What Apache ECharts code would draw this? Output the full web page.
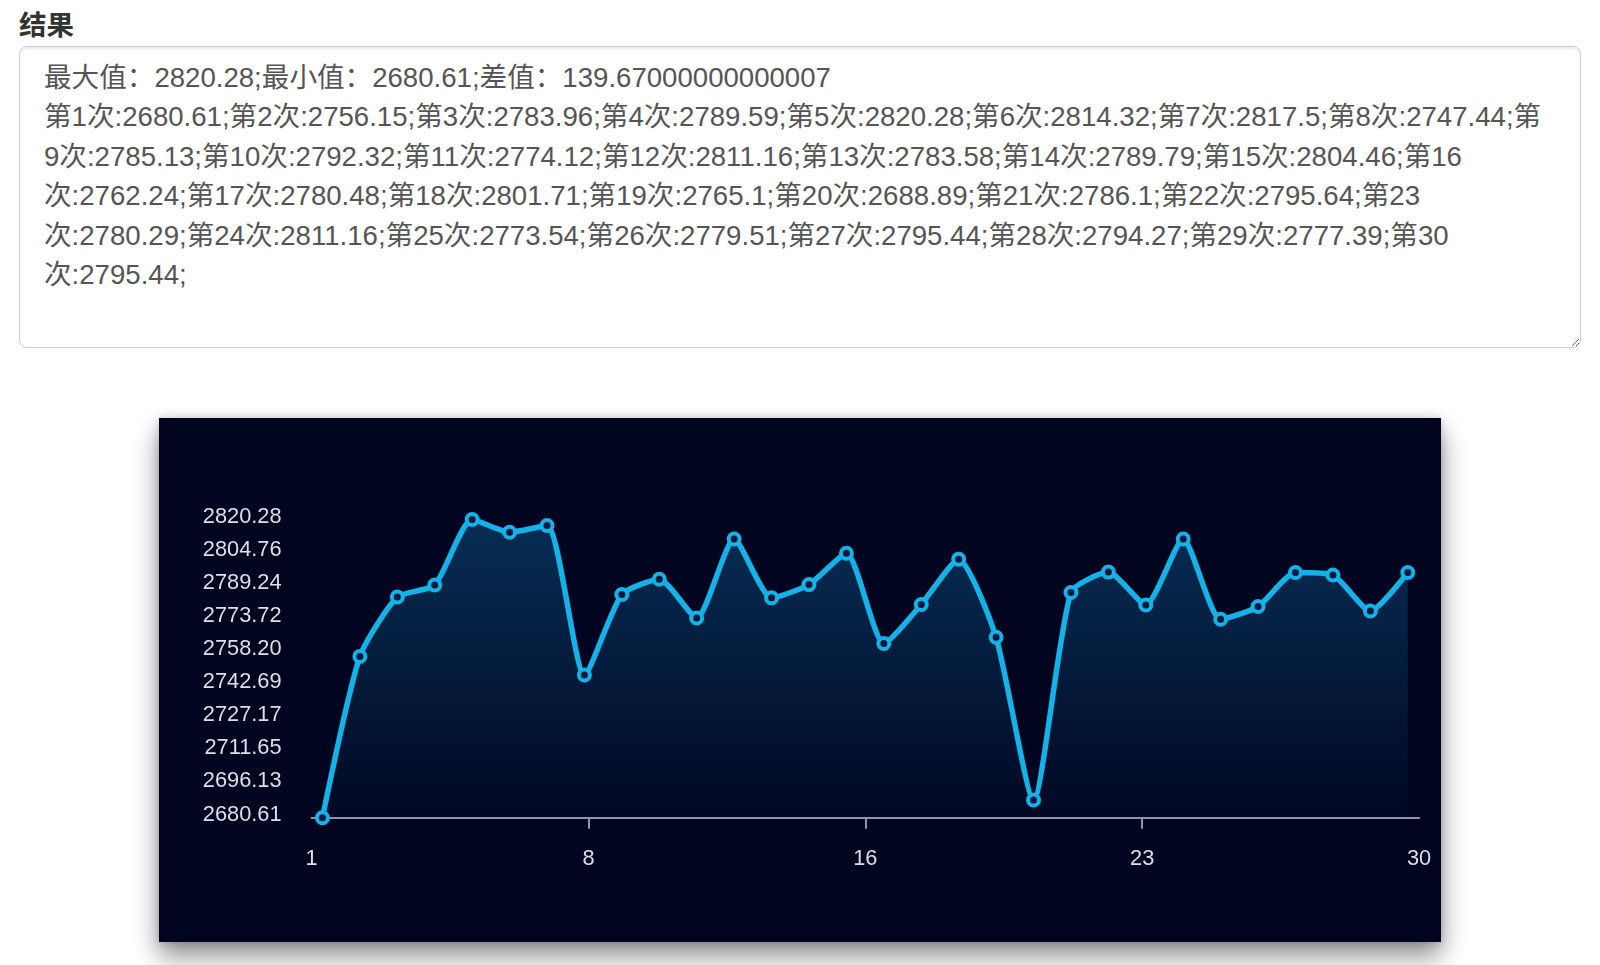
<!DOCTYPE html>
<html>
<head>
<meta charset="utf-8">
<script src="https://cdn.jsdelivr.net/npm/echarts@6/dist/echarts.min.js"></script>
<style>
  html, body { margin: 0; padding: 0; background: #ffffff; width: 1600px; height: 965px; overflow: hidden; }
  body { font-family: "Liberation Sans", Arial, "Noto Sans CJK SC", sans-serif; position: relative; }
  #title { position: absolute; left: 19px; top: 6px; font-size: 27.5px; line-height: 39px; font-weight: bold; color: #333; }
  #result { position: absolute; left: 19px; top: 46px; width: 1562px; height: 302px; box-sizing: border-box;
    border: 1px solid #ccc; border-radius: 8px; padding: 11px 36px 11px 24px; font-family: "Liberation Sans", Arial, "Noto Sans CJK SC", sans-serif;
    font-size: 27.6px; line-height: 39.4px; color: #555; background: #fff; box-shadow: inset 0 2px 2px rgba(0,0,0,0.08);
    resize: both; outline: none; overflow: hidden; }
  #chart { position: absolute; left: 159px; top: 418px; width: 1282px; height: 524px; background: #01051f;
    box-shadow: 0 14px 24px rgba(0,0,0,0.45), 0 0 8px rgba(0,0,0,0.18); }
</style>
</head>
<body>
<div id="title">结果</div>
<textarea id="result" readonly spellcheck="false"></textarea>
<div id="chart"></div>
<script>
// ---- data ----
const categories = [1,2,3,4,5,6,7,8,9,10,11,12,13,14,15,16,17,18,19,20,21,22,23,24,25,26,27,28,29,30];
const values = [2680.61,2756.15,2783.96,2789.59,2820.28,2814.32,2817.5,2747.44,2785.13,2792.32,
                2774.12,2811.16,2783.58,2789.79,2804.46,2762.24,2780.48,2801.71,2765.1,2688.89,
                2786.1,2795.64,2780.29,2811.16,2773.54,2779.51,2795.44,2794.27,2777.39,2795.44];
const xTickLabels = ['1','8','16','23','30'];
const yTickLabels = ['2680.61','2696.13','2711.65','2727.17','2742.69','2758.20','2773.72','2789.24','2804.76','2820.28'];
const maxValue = 2820.28;
const minValue = 2680.61;
const diffText = '139.67000000000007';

// ---- result text ----
let txt = '最大值：' + maxValue + ';最小值：' + minValue + ';差值：' + diffText + '\n';
categories.forEach((c, i) => { txt += '第' + c + '次:' + values[i] + ';'; });
document.getElementById('result').value = txt;

// ---- chart ----
const chart = echarts.init(document.getElementById('chart'), null, { renderer: 'canvas' });
const lineColor = '#14b2e6';
const labelFont = { color: '#dcdfe6', fontSize: 21.8, fontFamily: '"Liberation Sans", Arial, sans-serif' };
chart.setOption({
  backgroundColor: '#01051f',
  animation: false,
  grid: [
    { left: 152.6, right: 22, top: 101.5, bottom: 124.3 },
    { left: 152.6, right: 22, top: 98.5, bottom: 127.5 }
  ],
  xAxis: [
    {
      type: 'category', data: xTickLabels, boundaryGap: false, position: 'bottom', gridIndex: 0,
      axisLine: { show: true, lineStyle: { color: '#8d96aa', width: 2 } },
      axisTick: { show: true, length: 11, lineStyle: { color: '#8d96aa', width: 2 },
                  interval: function (idx) { return idx > 0 && idx < xTickLabels.length - 1; } },
      axisLabel: Object.assign({ interval: 0, margin: 30, lineHeight: 22 }, labelFont),
      splitLine: { show: false }
    },
    { type: 'value', min: 0.71, max: 30.3, show: false, gridIndex: 0, splitLine: { show: false } },
    { type: 'value', show: false, gridIndex: 1, splitLine: { show: false } }
  ],
  yAxis: [
    {
      type: 'category', data: yTickLabels, boundaryGap: false, gridIndex: 1,
      axisLine: { show: false }, axisTick: { show: false },
      axisLabel: Object.assign({ interval: 0, margin: 30 }, labelFont),
      splitLine: { show: false }
    },
    { type: 'value', min: minValue, max: maxValue, show: false, gridIndex: 0, splitLine: { show: false } }
  ],
  series: [{
    type: 'line',
    xAxisIndex: 1, yAxisIndex: 1,
    data: categories.map((c, i) => [c, values[i]]),
    smooth: 0.2,
    symbol: 'circle',
    symbolSize: 11,
    showSymbol: true,
    itemStyle: { color: '#0a1a3c', borderColor: lineColor, borderWidth: 4 },
    lineStyle: { color: lineColor, width: 5.5 },
    areaStyle: {
      color: new echarts.graphic.LinearGradient(0, 0, 0, 1, [
        { offset: 0, color: 'rgba(21,150,220,0.4)' },
        { offset: 1, color: 'rgba(21,150,220,0.03)' }
      ])
    },
    z: 3
  }]
});
</script>
</body>
</html>
